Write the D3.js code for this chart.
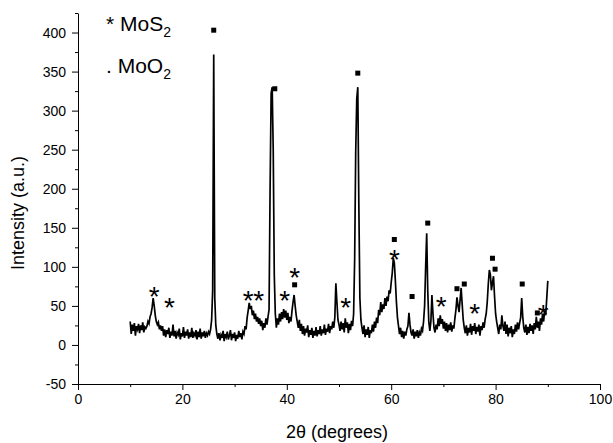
<!DOCTYPE html>
<html>
<head>
<meta charset="utf-8">
<title>XRD pattern - MoS2 / MoO2</title>
<script src="https://cdn.jsdelivr.net/npm/d3@7"></script>
<style>
    body { margin: 0; background: #fff; }
    text { font-family: "Liberation Sans", Arial, sans-serif; fill: #000; }
</style>
</head>
<body>
<div id="chart"></div>
<script>
    // scan: 10 to 90 degrees, one reading every 0.2 degree
    var startAngle = 10, stepAngle = 0.2;
    var intensity = [
        30, 14, 26, 18, 28, 12, 24, 20, 27, 15, 25, 19, 29, 16, 23, 21,
        24, 30, 27, 36, 40, 48, 60, 50, 38, 30, 26, 29, 20, 25,
        18, 24, 12, 20, 10, 19, 14, 22, 9, 17, 12, 26, 11, 18, 8, 16, 13, 21, 7, 15,
        11, 23, 9, 17, 12, 20, 8, 16, 10, 22, 9, 15, 12, 19, 7, 17, 10, 21, 8, 16,
        11, 18, 9, 15, 12, 17, 14,
        20, 32, 70, 372, 60, 25, 14,
        8, 15, 6, 13, 9, 18, 5, 14, 10, 17, 7, 12, 19, 6, 14, 9, 16, 5, 13, 8, 18, 10, 15, 7, 17,
        14, 24, 20, 35, 44, 54, 46, 50, 38, 44, 33, 40, 30, 36, 27, 34, 24, 31, 19, 28, 22, 34, 26, 36,
        45, 200, 322, 330, 250, 90, 40,
        22, 34, 26, 40, 30, 42, 33, 46, 35, 44, 32, 41, 28, 36, 30, 44,
        55, 64, 50, 38, 30,
        22, 32, 18, 27, 14, 24, 12, 21, 16, 25, 10, 19, 13, 22, 9, 18, 12, 23, 11, 19,
        14, 24, 12, 20, 15, 26, 13, 21, 17, 27, 15, 24, 20, 30, 22,
        35, 79, 55, 32, 26,
        18, 30, 20, 28, 16, 34, 22, 29, 15, 27, 19, 31, 24,
        40, 110, 247, 315, 330, 180, 60, 32,
        22, 14, 25, 10, 20, 13, 23, 9, 19, 15, 26, 17, 30, 22, 35,
        28, 45, 38, 55, 42, 52, 46, 60, 50, 62, 56, 70, 66, 80, 92, 111, 105, 82, 55, 35, 24,
        14, 22, 10, 18, 8, 17, 12, 20,
        24, 41, 26, 16,
        12, 20, 8, 17, 11, 19, 9, 16, 12, 21, 18, 30,
        50, 100, 143, 70, 30, 18,
        30, 64, 40, 22,
        16, 26, 20, 34, 24, 38, 27, 33, 21, 30, 18, 28, 16, 26, 19, 29, 17, 25, 21, 34,
        45, 61, 50, 42, 58, 73, 52, 32, 22,
        15, 25, 12, 22, 16, 27, 13, 24, 18, 28, 14, 23, 17, 26, 12, 24, 19, 29, 22, 33, 40,
        55, 78, 96, 90, 70, 80, 88, 62, 40, 30, 22,
        14, 26, 20, 38, 24, 18, 30, 14, 26, 11, 22, 15, 24, 10, 20, 14, 26, 17, 29, 20, 28,
        35, 60, 36, 22,
        16, 26, 13, 23, 15, 27, 18, 25, 14, 28, 20, 36, 22, 30, 18, 34, 26, 40, 30, 44, 38, 60, 82
    ];
    // peak labels [2theta, intensity]
    var mos2Marks = [[14.6, 71], [17.5, 57], [32.6, 66], [34.6, 66], [39.6, 66], [41.5, 96],
                     [51.3, 57], [60.6, 119], [69.6, 59], [76.0, 50], [89.1, 48]];
    var moo2Marks = [[26.0, 403], [37.7, 328], [53.6, 348], [41.5, 77], [60.6, 135], [64.0, 62],
                     [67.0, 156], [72.6, 72], [74.0, 78], [79.4, 111], [79.9, 97], [85.1, 78], [88.0, 41]];
    var xTicks = [0, 20, 40, 60, 80, 100];
    var xMinor = [10, 30, 50, 70, 90];
    var yTicks = [-50, 0, 50, 100, 150, 200, 250, 300, 350, 400];
    var yMinor = [-25, 25, 75, 125, 175, 225, 275, 325, 375, 425];

    var width = 613, height = 443;
    var svg = d3.select('#chart').append('svg')
        .attr('width', width)
        .attr('height', height);

    var x = d3.scaleLinear().domain([0, 100]).range([78, 600]);
    var y = d3.scaleLinear().domain([-50, 425]).range([384, 13]);

    var points = intensity.map(function (v, i) {
        return [startAngle + i * stepAngle, v];
    });

    var line = d3.line()
        .x(function (d) { return x(d[0]); })
        .y(function (d) { return y(d[1]); });

    svg.append('path')
        .datum(points)
        .attr('d', line)
        .style('fill', 'none')
        .style('stroke', '#000')
        .style('stroke-width', 1.7)
        .style('stroke-linejoin', 'miter');

    // axes (major + minor ticks)
    function styleAxis(g) {
        g.selectAll('path, line').style('stroke', '#000').style('stroke-width', 1);
        g.selectAll('text').style('font-size', '14px').style('font-family', '"Liberation Sans", Arial, sans-serif');
    }
    function plain(d) { return String(d); }

    var xAxis = svg.append('g').attr('transform', 'translate(0,' + y(-50) + ')')
        .call(d3.axisBottom(x).tickValues(xTicks).tickSize(6).tickSizeOuter(0).tickPadding(4).tickFormat(plain));
    styleAxis(xAxis);
    var xAxisMinor = svg.append('g').attr('transform', 'translate(0,' + y(-50) + ')')
        .call(d3.axisBottom(x).tickValues(xMinor).tickSize(3).tickFormat(''));
    xAxisMinor.select('.domain').remove();
    styleAxis(xAxisMinor);

    var yAxis = svg.append('g').attr('transform', 'translate(' + x(0) + ',0)')
        .call(d3.axisLeft(y).tickValues(yTicks).tickSize(6).tickSizeOuter(0).tickPadding(6).tickFormat(plain));
    styleAxis(yAxis);
    var yAxisMinor = svg.append('g').attr('transform', 'translate(' + x(0) + ',0)')
        .call(d3.axisLeft(y).tickValues(yMinor).tickSize(3).tickFormat(''));
    yAxisMinor.select('.domain').remove();
    styleAxis(yAxisMinor);

    // axis titles
    svg.append('text')
        .attr('x', 337).attr('y', 438)
        .attr('text-anchor', 'middle')
        .style('font-size', '18px')
        .text('2θ (degrees)');

    svg.append('text')
        .attr('transform', 'translate(24,213) rotate(-90)')
        .attr('text-anchor', 'middle')
        .style('font-size', '18px')
        .text('Intensity (a.u.)');

    // peak markers
    svg.selectAll('.star')
        .data(mos2Marks)
        .enter().append('text')
        .attr('class', 'star')
        .attr('x', function (d) { return x(d[0]); })
        .attr('y', function (d) { return y(d[1]); })
        .attr('dy', '0.6em')
        .attr('text-anchor', 'middle')
        .style('font-size', '28px')
        .text('*');

    svg.selectAll('.sq')
        .data(moo2Marks)
        .enter().append('rect')
        .attr('class', 'sq')
        .attr('x', function (d) { return x(d[0]) - 2.5; })
        .attr('y', function (d) { return y(d[1]) - 2.5; })
        .attr('width', 5)
        .attr('height', 5)
        .style('fill', '#000');

    // legend
    var leg1 = svg.append('text').attr('x', 106).attr('y', 31).style('font-size', '21px');
    leg1.append('tspan').text('* MoS');
    leg1.append('tspan').attr('dy', 6).style('font-size', '14px').text('2');

    var leg2 = svg.append('text').attr('x', 106).attr('y', 73).style('font-size', '21px');
    leg2.append('tspan').text('. MoO');
    leg2.append('tspan').attr('dy', 6).style('font-size', '14px').text('2');
</script>
</body>
</html>
